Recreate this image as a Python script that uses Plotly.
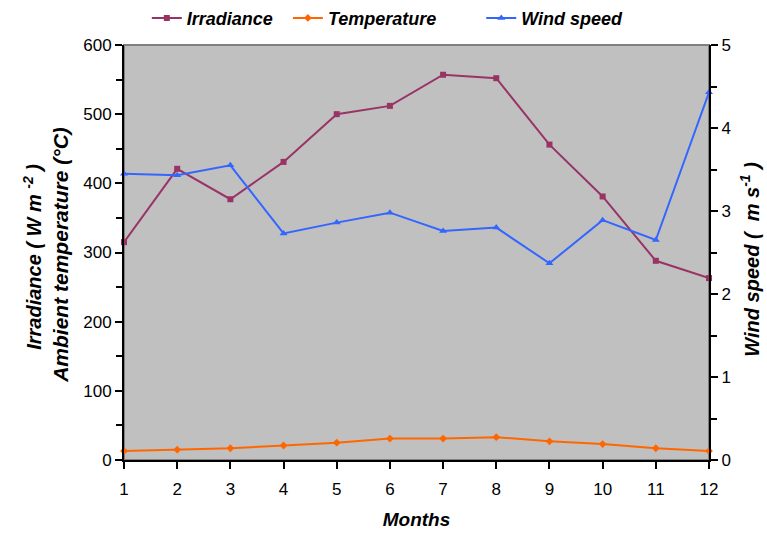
import plotly.graph_objects as go

months = [1, 2, 3, 4, 5, 6, 7, 8, 9, 10, 11, 12]
irradiance = [315, 421, 377, 431, 500, 512, 557, 552, 456, 381, 288, 263]
temperature = [13, 15, 17, 21, 25, 31, 31, 33, 27, 23, 17, 13]
wind_speed = [3.45, 3.43, 3.55, 2.73, 2.86, 2.98, 2.76, 2.80, 2.37, 2.89, 2.65, 4.43]

FONT = "Liberation Sans, Arial, sans-serif"
NB = "\u00a0"

fig = go.Figure()
fig.add_trace(go.Scatter(
    x=months, y=irradiance, name="<b><i>Irradiance</i></b>" + NB * 2, mode="lines+markers",
    line=dict(color="#993366", width=2), marker=dict(symbol="square", size=6, color="#993366"),
    cliponaxis=False))
fig.add_trace(go.Scatter(
    x=months, y=temperature, name="<b><i>Temperature</i></b>" + NB * 8, mode="lines+markers",
    line=dict(color="#FF6600", width=2), marker=dict(symbol="diamond", size=6, color="#FF6600"),
    cliponaxis=False))
fig.add_trace(go.Scatter(
    x=months, y=wind_speed, name="<b><i>Wind speed</i></b>", mode="lines+markers", yaxis="y2",
    line=dict(color="#3366FF", width=2), marker=dict(symbol="triangle-up", size=7, color="#3366FF"),
    cliponaxis=False))

fig.update_layout(
    width=767, height=534,
    margin=dict(l=124, r=58, t=45, b=74, autoexpand=False),
    paper_bgcolor="white", plot_bgcolor="#C0C0C0",
    font=dict(family=FONT, size=14, color="black"),
    showlegend=True,
    legend=dict(orientation="h", x=0.039, xanchor="left", y=1.02, yanchor="bottom",
                font=dict(size=18, color="black"), bgcolor="rgba(0,0,0,0)"),
    xaxis=dict(range=[1, 12], tickmode="array", tickvals=months, ticktext=[str(m) for m in months],
               showgrid=False, zeroline=False, showline=True, linecolor="black", linewidth=2,
               ticks="outside", ticklen=7, tickwidth=2, tickcolor="black",
               tickfont=dict(size=17), ticklabelstandoff=6,
               title=dict(text="<b><i>Months</i></b>", font=dict(size=19), standoff=14)),
    yaxis=dict(range=[0, 600], dtick=100, showgrid=False, zeroline=False, showline=True,
               linecolor="black", linewidth=2, ticks="outside", ticklen=7, tickwidth=2,
               tickcolor="black", tickfont=dict(size=17),
               minor=dict(dtick=50, ticks="outside", ticklen=6, tickwidth=2, tickcolor="black")),
    yaxis2=dict(range=[0, 5], dtick=1, overlaying="y", side="right", showgrid=False,
                zeroline=False, showline=True, linecolor="black", linewidth=2,
                ticks="outside", ticklen=7, tickwidth=2, tickcolor="black", tickfont=dict(size=17),
                minor=dict(dtick=0.5, ticks="outside", ticklen=6, tickwidth=2, tickcolor="black")),
    shapes=[dict(type="rect", xref="paper", yref="paper", x0=0, x1=1, y0=0, y1=1,
                 line=dict(color="#808080", width=2), layer="below")],
    annotations=[
        dict(text="<b><i>Irradiance ( W m <sup>-2</sup> )</i></b>", xref="paper", yref="paper",
             x=-0.157, y=0.49, textangle=-90, showarrow=False, font=dict(size=20),
             xanchor="center", yanchor="middle"),
        dict(text="<b><i>Ambient temperature (°C)</i></b>", xref="paper", yref="paper",
             x=-0.109, y=0.495, textangle=-90, showarrow=False, font=dict(size=21),
             xanchor="center", yanchor="middle"),
        dict(text="<b><i>Wind speed (  m s<sup>-1</sup> )</i></b>", xref="paper", yref="paper",
             x=1.07, y=0.485, textangle=-90, showarrow=False, font=dict(size=20),
             xanchor="center", yanchor="middle"),
    ],
)

fig.write_html("out.html", config={"displayModeBar": False},
               post_script="document.body.style.margin='0';")
